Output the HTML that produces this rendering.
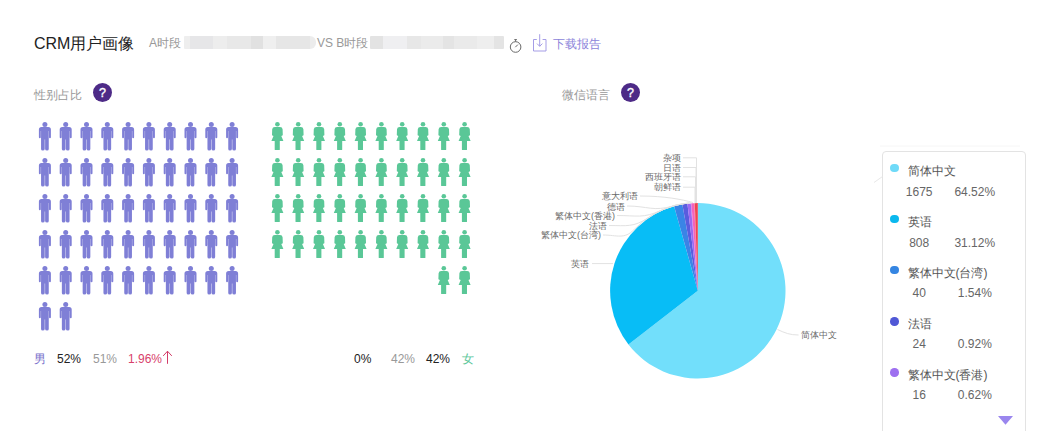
<!DOCTYPE html>
<html><head><meta charset="utf-8">
<style>
html,body{margin:0;padding:0;background:#fff;width:1047px;height:431px;overflow:hidden;position:relative;font-family:"Liberation Sans",sans-serif;}
.a{position:absolute;white-space:nowrap;line-height:1;}
.q{position:absolute;width:19px;height:19px;border-radius:50%;background:#4d2a87;color:#fff;font-size:12px;text-align:center;line-height:20.5px;font-size:12.5px;-webkit-text-stroke:0.35px #fff;}
.lg{position:absolute;left:882px;top:151px;width:144px;height:300px;border:1px solid #e3e3e3;border-radius:4px;background:#fff;box-sizing:border-box;}
.li{position:absolute;font-size:12px;color:#555;white-space:nowrap;line-height:1;}
.dot{position:absolute;width:8.5px;height:8.5px;border-radius:50%;}
.pl{position:absolute;font-size:9px;color:#6a6a6a;white-space:nowrap;line-height:1;}
</style></head><body>
<div class="a" style="left:34px;top:36.3px;font-size:16px;color:#222;">CRM用户画像</div>
<div class="a" style="left:149px;top:37px;font-size:12px;color:#999;">A时段</div>
<div class="a" style="left:183.6px;top:36px;width:132.4px;height:12.5px;background:linear-gradient(90deg,#eeeeee 0.0px,#eeeeee 5.7px,#e6e6e8 5.7px,#e6e6e8 29.4px,#ededed 29.4px,#ededed 43.0px,#e8e8e8 43.0px,#e8e8e8 67.4px,#e1e1e1 67.4px,#e1e1e1 78.8px,#efefef 78.8px,#efefef 91.7px,#e6e6e6 91.7px,#e6e6e6 126.1px,#ececec 126.1px,#ececec 132.4px);border-radius:1px 6px 6px 1px;filter:blur(0.5px);"></div>
<div class="a" style="left:317px;top:37px;font-size:12px;color:#999;">VS B时段</div>
<div class="a" style="left:370.3px;top:36px;width:133.7px;height:12.5px;background:linear-gradient(90deg,#e3e3e3 0.0px,#e3e3e3 12.7px,#efeff1 12.7px,#efeff1 36.7px,#e7e7e7 36.7px,#e7e7e7 51.3px,#ebebeb 51.3px,#ebebeb 72.7px,#e4e4e4 72.7px,#e4e4e4 84.3px,#eaeaea 84.3px,#eaeaea 107.2px,#eeeeee 107.2px,#eeeeee 124.4px,#e4e4e4 124.4px,#e4e4e4 133.7px);border-radius:1px;filter:blur(0.5px);"></div>
<div class="a" style="left:553px;top:38px;font-size:12px;color:#8c84da;">下载报告</div>

<div class="a" style="left:34px;top:89px;font-size:12px;color:#999;">性别占比</div>
<div class="q" style="left:93px;top:83px;">?</div>
<div class="a" style="left:562px;top:89px;font-size:12px;color:#999;">微信语言</div>
<div class="q" style="left:621px;top:83px;">?</div>

<svg class="a" style="left:0;top:0" width="1047" height="431" viewBox="0 0 1047 431">
<defs>
<g id="m" fill="#7f7fd6"><circle cx="6" cy="2.5" r="2.5"/><path d="M2.6,5H9.4Q12,5 12,7.6V15.3Q12,16.3 11.05,16.3Q10.1,16.3 10.1,15.3V9H9.85V27Q9.85,28.5 8.2,28.5Q6.2,28.5 6.2,27V17.5H5.8V27Q5.8,28.5 3.8,28.5Q2.15,28.5 2.15,27V9H1.9V15.3Q1.9,16.3 0.95,16.3Q0,16.3 0,15.3V7.6Q0,5 2.6,5Z"/></g>
<g id="f" fill="#5ac797"><circle cx="5.6" cy="2.2" r="2.3"/><path d="M3,4.9H8.2Q10.5,4.9 10.8,7.2L11,13Q11,13.4 10.6,13.5L9.5,13.9L11.6,19H8V27.6Q8,28.1 7.5,28.1H3.4Q2.9,28.1 2.9,27.6V19H-0.4L1.7,13.9L0.6,13.5Q0.2,13.4 0.2,13L0.4,7.2Q0.7,4.9 3,4.9Z"/></g>
</defs>
<use href="#m" x="38.9" y="122.0"/><use href="#m" x="59.7" y="122.0"/><use href="#m" x="80.5" y="122.0"/><use href="#m" x="101.3" y="122.0"/><use href="#m" x="122.1" y="122.0"/><use href="#m" x="142.9" y="122.0"/><use href="#m" x="163.7" y="122.0"/><use href="#m" x="184.5" y="122.0"/><use href="#m" x="205.3" y="122.0"/><use href="#m" x="226.1" y="122.0"/><use href="#m" x="38.9" y="158.0"/><use href="#m" x="59.7" y="158.0"/><use href="#m" x="80.5" y="158.0"/><use href="#m" x="101.3" y="158.0"/><use href="#m" x="122.1" y="158.0"/><use href="#m" x="142.9" y="158.0"/><use href="#m" x="163.7" y="158.0"/><use href="#m" x="184.5" y="158.0"/><use href="#m" x="205.3" y="158.0"/><use href="#m" x="226.1" y="158.0"/><use href="#m" x="38.9" y="194.0"/><use href="#m" x="59.7" y="194.0"/><use href="#m" x="80.5" y="194.0"/><use href="#m" x="101.3" y="194.0"/><use href="#m" x="122.1" y="194.0"/><use href="#m" x="142.9" y="194.0"/><use href="#m" x="163.7" y="194.0"/><use href="#m" x="184.5" y="194.0"/><use href="#m" x="205.3" y="194.0"/><use href="#m" x="226.1" y="194.0"/><use href="#m" x="38.9" y="230.0"/><use href="#m" x="59.7" y="230.0"/><use href="#m" x="80.5" y="230.0"/><use href="#m" x="101.3" y="230.0"/><use href="#m" x="122.1" y="230.0"/><use href="#m" x="142.9" y="230.0"/><use href="#m" x="163.7" y="230.0"/><use href="#m" x="184.5" y="230.0"/><use href="#m" x="205.3" y="230.0"/><use href="#m" x="226.1" y="230.0"/><use href="#m" x="38.9" y="266.0"/><use href="#m" x="59.7" y="266.0"/><use href="#m" x="80.5" y="266.0"/><use href="#m" x="101.3" y="266.0"/><use href="#m" x="122.1" y="266.0"/><use href="#m" x="142.9" y="266.0"/><use href="#m" x="163.7" y="266.0"/><use href="#m" x="184.5" y="266.0"/><use href="#m" x="205.3" y="266.0"/><use href="#m" x="226.1" y="266.0"/><use href="#m" x="38.9" y="302.0"/><use href="#m" x="59.7" y="302.0"/>
<use href="#f" x="271.8" y="122.0"/><use href="#f" x="292.6" y="122.0"/><use href="#f" x="313.4" y="122.0"/><use href="#f" x="334.2" y="122.0"/><use href="#f" x="355.0" y="122.0"/><use href="#f" x="375.8" y="122.0"/><use href="#f" x="396.6" y="122.0"/><use href="#f" x="417.4" y="122.0"/><use href="#f" x="438.2" y="122.0"/><use href="#f" x="459.0" y="122.0"/><use href="#f" x="271.8" y="158.0"/><use href="#f" x="292.6" y="158.0"/><use href="#f" x="313.4" y="158.0"/><use href="#f" x="334.2" y="158.0"/><use href="#f" x="355.0" y="158.0"/><use href="#f" x="375.8" y="158.0"/><use href="#f" x="396.6" y="158.0"/><use href="#f" x="417.4" y="158.0"/><use href="#f" x="438.2" y="158.0"/><use href="#f" x="459.0" y="158.0"/><use href="#f" x="271.8" y="194.0"/><use href="#f" x="292.6" y="194.0"/><use href="#f" x="313.4" y="194.0"/><use href="#f" x="334.2" y="194.0"/><use href="#f" x="355.0" y="194.0"/><use href="#f" x="375.8" y="194.0"/><use href="#f" x="396.6" y="194.0"/><use href="#f" x="417.4" y="194.0"/><use href="#f" x="438.2" y="194.0"/><use href="#f" x="459.0" y="194.0"/><use href="#f" x="271.8" y="230.0"/><use href="#f" x="292.6" y="230.0"/><use href="#f" x="313.4" y="230.0"/><use href="#f" x="334.2" y="230.0"/><use href="#f" x="355.0" y="230.0"/><use href="#f" x="375.8" y="230.0"/><use href="#f" x="396.6" y="230.0"/><use href="#f" x="417.4" y="230.0"/><use href="#f" x="438.2" y="230.0"/><use href="#f" x="459.0" y="230.0"/><use href="#f" x="438.2" y="266.0"/><use href="#f" x="459.0" y="266.0"/>
<!-- stopwatch -->
<g fill="none" stroke="#6a6a6a" stroke-width="1"><circle cx="515.6" cy="47" r="5.3"/><path d="M514.3,39.6H516.9M515.6,39.6V41.7M515.3,47.2L517.9,44.6"/></g>
<!-- download -->
<g fill="none" stroke="#a59de6" stroke-width="1"><path d="M536.8,39.5H533.5V51H546V39.5H542.6M539.7,34.2V46.3M537,43.6L539.7,46.3L542.4,43.6"/></g>
<path d="M697.8,290.8L697.80,203.10A87.7,87.7 0 1 1 628.43,344.45Z" fill="#72dffb"/><path d="M697.8,290.8L628.43,344.45A87.7,87.7 0 0 1 674.11,206.36Z" fill="#08bdf6"/><path d="M697.8,290.8L674.11,206.36A87.7,87.7 0 0 1 682.39,204.47Z" fill="#3a84e6"/><path d="M697.8,290.8L682.39,204.47A87.7,87.7 0 0 1 687.42,203.72Z" fill="#5a5cde"/><path d="M697.8,290.8L687.42,203.72A87.7,87.7 0 0 1 690.80,203.38Z" fill="#9c68f2"/><path d="M697.8,290.8L690.80,203.38A87.7,87.7 0 0 1 691.44,203.33Z" fill="#c86ae6"/><path d="M697.8,290.8L691.44,203.33A87.7,87.7 0 0 1 694.19,203.17Z" fill="#f462bc"/><path d="M697.8,290.8L694.19,203.17A87.7,87.7 0 0 1 694.40,203.17Z" fill="#fb5a90"/><path d="M697.8,290.8L694.40,203.17A87.7,87.7 0 0 1 694.62,203.16Z" fill="#f85070"/><path d="M697.8,290.8L694.62,203.16A87.7,87.7 0 0 1 694.83,203.15Z" fill="#f24860"/><path d="M697.8,290.8L694.83,203.15A87.7,87.7 0 0 1 697.80,203.10Z" fill="#ee4452"/>
<g fill="none" stroke="#e2e2e2" stroke-width="1">
<path d="M592,263.6H613"/>
<path d="M777.5,329.5C785,333 790,335 798.5,335"/>
<path d="M683,157.8H696.5V203M683,167.5H696V203M683,176.8H695.5V203M683,187.2H695V203"/>
<path d="M603,235C617.0,235.0 624.3,239.7 634.0,229.6A88.4,88.4 0 0 1 678.1,204.6"/>
<path d="M609,225.5C626.5,225.5 633.5,227.6 648.0,217.8A88.4,88.4 0 0 1 684.8,203.4"/>
<path d="M617,215.5C636.8,215.5 643.0,218.7 661.0,210.4A88.4,88.4 0 0 1 689.0,202.8"/>
<path d="M627,206C647.7,206.0 653.1,211.8 673.0,206.0A88.4,88.4 0 0 1 691.1,202.7"/>
<path d="M640,196C665,196 682,199.5 692.9,202.5"/>
</g>
</svg>
<div class="pl" style="right:366px;top:153.9px;">杂项</div>
<div class="pl" style="right:366px;top:163.9px;">日语</div>
<div class="pl" style="right:366px;top:172.9px;">西班牙语</div>
<div class="pl" style="right:366px;top:182.9px;">朝鲜语</div>
<div class="pl" style="right:409px;top:191.9px;">意大利语</div>
<div class="pl" style="right:422px;top:202.9px;">德语</div>
<div class="pl" style="right:432px;top:211.9px;">繁体中文(香港)</div>
<div class="pl" style="right:440px;top:221.9px;">法语</div>
<div class="pl" style="right:446px;top:230.9px;">繁体中文(台湾)</div>
<div class="pl" style="right:458px;top:259.9px;">英语</div>
<div class="pl" style="left:801px;top:330.9px;">简体中文</div>

<div class="lg"></div><svg class="a" style="left:860px;top:140px" width="180" height="60"><path d="M22.5,36.5L14,42.5" fill="none" stroke="#e8e8e8" stroke-width="1"/><path d="M20,6H160" stroke="#f6f6f6"/></svg>
<div class="dot" style="left:890.2px;top:163.8px;background:#6fdaf8;"></div><div class="li" style="left:907.5px;top:165.3px;">简体中文</div><div class="li" style="left:889.2px;width:60px;text-align:center;top:185.8px;color:#666;">1675</div><div class="li" style="left:944.8px;width:60px;text-align:center;top:185.8px;color:#666;">64.52%</div><div class="dot" style="left:890.2px;top:214.8px;background:#0bb8ee;"></div><div class="li" style="left:907.5px;top:216.1px;">英语</div><div class="li" style="left:889.2px;width:60px;text-align:center;top:236.6px;color:#666;">808</div><div class="li" style="left:944.8px;width:60px;text-align:center;top:236.6px;color:#666;">31.12%</div><div class="dot" style="left:890.2px;top:265.9px;background:#3585e2;"></div><div class="li" style="left:907.5px;top:266.9px;">繁体中文(台湾)</div><div class="li" style="left:889.2px;width:60px;text-align:center;top:287.4px;color:#666;">40</div><div class="li" style="left:944.8px;width:60px;text-align:center;top:287.4px;color:#666;">1.54%</div><div class="dot" style="left:890.2px;top:317.1px;background:#5058d6;"></div><div class="li" style="left:907.5px;top:317.7px;">法语</div><div class="li" style="left:889.2px;width:60px;text-align:center;top:338.2px;color:#666;">24</div><div class="li" style="left:944.8px;width:60px;text-align:center;top:338.2px;color:#666;">0.92%</div><div class="dot" style="left:890.2px;top:368.1px;background:#9e70f0;"></div><div class="li" style="left:907.5px;top:368.5px;">繁体中文(香港)</div><div class="li" style="left:889.2px;width:60px;text-align:center;top:389.0px;color:#666;">16</div><div class="li" style="left:944.8px;width:60px;text-align:center;top:389.0px;color:#666;">0.62%</div><svg class="a" style="left:998px;top:415.8px" width="16" height="10"><path d="M0,0H15L7.5,8.8Z" fill="#9a86ee"/></svg>
<div class="a" style="left:34px;top:353px;font-size:12px;color:#7a72cc;">男</div>
<div class="a" style="left:57px;top:353px;font-size:12px;color:#222;">52%</div>
<div class="a" style="left:93px;top:353px;font-size:12px;color:#999;">51%</div>
<div class="a" style="left:128px;top:353px;font-size:12px;color:#d83f6b;">1.96%</div><svg class="a" style="left:160px;top:350px" width="14" height="16"><path d="M7.5,1.2V13.8M3.2,5.9L7.5,1.2L11.8,5.9" fill="none" stroke="#d23c68" stroke-width="1"/></svg>
<div class="a" style="left:354px;top:353px;font-size:12px;color:#222;">0%</div>
<div class="a" style="left:391px;top:353px;font-size:12px;color:#999;">42%</div>
<div class="a" style="left:426px;top:353px;font-size:12px;color:#222;">42%</div>
<div class="a" style="left:462px;top:353px;font-size:12px;color:#5cc79b;">女</div>
</body></html>
